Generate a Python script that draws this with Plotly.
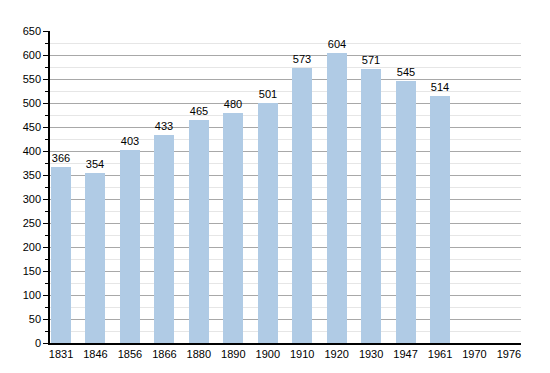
import plotly.graph_objects as go

years = ["1831", "1846", "1856", "1866", "1880", "1890", "1900", "1910", "1920", "1930", "1947", "1961", "1970", "1976"]
population = [366, 354, 403, 433, 465, 480, 501, 573, 604, 571, 545, 514, None, None]

xpos = list(range(len(years)))
labels = [str(v) if v is not None else "" for v in population]

fig = go.Figure()
fig.add_trace(go.Bar(
    x=xpos, y=population, width=0.58,
    marker=dict(color="#b0cbe5", line=dict(width=0)),
    text=labels, textposition="outside", cliponaxis=False,
    textfont=dict(family="Liberation Sans, Arial, sans-serif", size=11, color="#000"),
))

fig.update_layout(
    width=550, height=373,
    margin=dict(l=42, r=37, t=23, b=38, autoexpand=False),
    paper_bgcolor="white", plot_bgcolor="white",
    showlegend=False,
    font=dict(family="Liberation Sans, Arial, sans-serif", size=11, color="#000"),
    bargap=0,
)
fig.update_xaxes(
    range=[-0.32, 13.35], tickmode="array", tickvals=xpos, ticktext=years,
    showgrid=False, showline=True, linecolor="#000", linewidth=1.5,
    ticks="", zeroline=False, tickfont=dict(size=11), automargin=False,
)
fig.update_yaxes(
    range=[0, 650], tickmode="linear", tick0=0, dtick=50,
    showgrid=True, gridcolor="#a8a8a8", gridwidth=1,
    showline=True, linecolor="#000", linewidth=1.5,
    ticks="outside", ticklen=5, tickcolor="#000", tickwidth=1,
    minor=dict(dtick=25, showgrid=True, gridcolor="#e6e6e6", ticks="outside", ticklen=3, tickcolor="#000"),
    zeroline=False, tickfont=dict(size=11), automargin=False,
)

fig.write_html("out.html")
